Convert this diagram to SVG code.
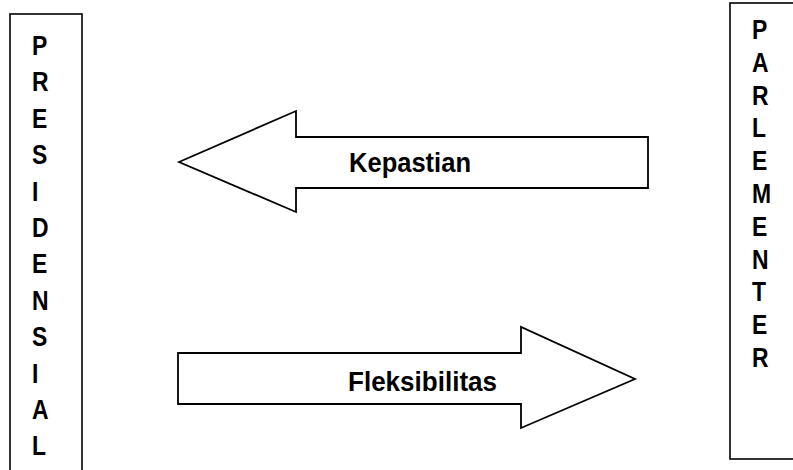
<svg xmlns="http://www.w3.org/2000/svg" width="793" height="470" viewBox="0 0 793 470">
<style>
.box{fill:#fff;stroke:#000;stroke-width:1.6}
.arr{fill:#fff;stroke:#000;stroke-width:1.8;stroke-linejoin:miter}
.t{font-family:"Liberation Sans",Arial,sans-serif;font-weight:bold;font-size:27px;fill:#000}
.l{font-size:28px}
</style>
<rect width="793" height="470" fill="#fff"/>
<g id="presidensial">
<rect class="box" x="10" y="14" width="72" height="470"/>
<text class="t" transform="scale(0.85,1)">
<tspan x="37.6" y="55">P</tspan>
<tspan x="37.6" y="91.4">R</tspan>
<tspan x="37.6" y="127.8">E</tspan>
<tspan x="37.6" y="164.2">S</tspan>
<tspan x="37.6" y="200.6">I</tspan>
<tspan x="37.6" y="237">D</tspan>
<tspan x="37.6" y="273.4">E</tspan>
<tspan x="37.6" y="309.8">N</tspan>
<tspan x="37.6" y="346.2">S</tspan>
<tspan x="37.6" y="382.6">I</tspan>
<tspan x="37.6" y="419">A</tspan>
<tspan x="37.6" y="455.4">L</tspan>
</text>
</g>
<g id="parlementer">
<rect class="box" x="730" y="3" width="80" height="456"/>
<text class="t" transform="scale(0.85,1)">
<tspan x="884.7" y="39">P</tspan>
<tspan x="884.7" y="71.8">A</tspan>
<tspan x="884.7" y="104.6">R</tspan>
<tspan x="884.7" y="137.4">L</tspan>
<tspan x="884.7" y="170.2">E</tspan>
<tspan x="884.7" y="203">M</tspan>
<tspan x="884.7" y="235.8">E</tspan>
<tspan x="884.7" y="268.6">N</tspan>
<tspan x="884.7" y="301.4">T</tspan>
<tspan x="884.7" y="334.2">E</tspan>
<tspan x="884.7" y="367">R</tspan>
</text>
</g>
<g id="connectors">
<g id="kepastian">
<polygon class="arr" points="179,162 296,111 296,137 648,137 648,188 296,188 296,212"/>
<text class="t l" x="349" y="172" textLength="122" lengthAdjust="spacingAndGlyphs">Kepastian</text>
</g>
<g id="fleksibilitas">
<polygon class="arr" points="178,353 521,353 521,327 635,379 521,428 521,404 178,404"/>
<text class="t l" x="348" y="391" textLength="149" lengthAdjust="spacingAndGlyphs">Fleksibilitas</text>
</g>
</g>
</svg>
